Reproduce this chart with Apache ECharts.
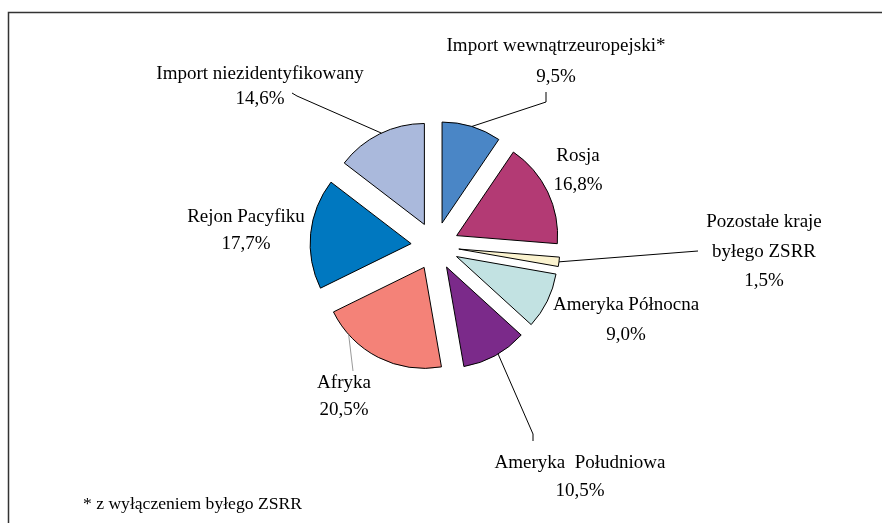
<!DOCTYPE html>
<html>
<head>
<meta charset="utf-8">
<script src="https://cdn.jsdelivr.net/npm/echarts@6/dist/echarts.min.js"></script>
<style>
html,body{margin:0;padding:0;background:#fff;}
#chart{width:882px;height:523px;}
</style>
</head>
<body>
<div id="chart"></div>
<script>
const categories = ['Import wewnątrzeuropejski*', 'Rosja', 'Pozostałe kraje\nbyłego ZSRR', 'Ameryka Północna', 'Ameryka  Południowa', 'Afryka', 'Rejon Pacyfiku', 'Import niezidentyfikowany'];
const values = [9.5, 16.8, 1.5, 9.0, 10.5, 20.5, 17.7, 14.6];
const footnote = '* z wyłączeniem byłego ZSRR';

// styling / layout (not data)
const colors = ['#4A86C6', '#B33A74', '#FBF3CF', '#C2E2E2', '#7B2A8A', '#F48278', '#0078C0', '#AAB9DC'];
const labelCenters = [[556, 62], [578, 171], [764, 252], [626, 320], [580, 477], [344, 397], [246, 231], [260, 87]];
const labelLineHeights = [31, 29, 29.5, 30, 28, 27, 27, 25];
// leader lines: fraction along slice arc where the line starts, and the remaining points near the label
const leaderStartFrac = [0.5, null, 0.5, null, 0.45, 0.79, null, 0.52];
const leaderEnds = [
  [[546, 102], [546, 92]],
  null,
  [[698, 251]],
  null,
  [[533, 434], [533, 441]],
  [[353, 371]],
  null,
  [[297, 96], [292, 93]]
];
const leaderColors = ['#000', null, '#000', null, '#000', '#9a9a9a', null, '#000'];

const fmt = v => v.toFixed(1).replace('.', ',') + '%';
const OFFSET = 24;
const CENTER = [435, 246];
const RADIUS = 101;

const chart = echarts.init(document.getElementById('chart'), null, {renderer: 'canvas'});
const data = categories.map((c, i) => ({
  name: c,
  value: values[i],
  selected: true,
  itemStyle: {color: colors[i]}
}));

const baseGraphic = [
  {type: 'polyline', shape: {points: [[8.5, 523], [8.5, 12.5], [882, 12.5]]}, style: {stroke: '#333', lineWidth: 1.5, fill: null}, silent: true},
  {type: 'text', left: 83, top: 495, style: {text: footnote, font: '17.6px "Liberation Serif"', fill: '#000'}, silent: true}
];
categories.forEach((c, i) => {
  baseGraphic.push({
    type: 'text',
    x: labelCenters[i][0], y: labelCenters[i][1],
    silent: true,
    style: {
      text: c + '\n' + fmt(values[i]),
      font: '19px "Liberation Serif"',
      fill: '#000',
      align: 'center',
      verticalAlign: 'middle',
      lineHeight: labelLineHeights[i]
    }
  });
});

chart.setOption({
  animation: false,
  backgroundColor: '#fff',
  graphic: baseGraphic,
  series: [{
    type: 'pie',
    center: CENTER,
    radius: RADIUS,
    startAngle: 90,
    clockwise: true,
    selectedMode: 'multiple',
    selectedOffset: OFFSET,
    emphasis: {disabled: true},
    itemStyle: {borderColor: '#000', borderWidth: 1},
    label: {show: false},
    labelLine: {show: false},
    data: data
  }]
});

// leader lines anchored to the library's own pie layout
let layouts = [];
try {
  const sd = chart.getModel().getSeriesByIndex(0).getData();
  for (let i = 0; i < values.length; i++) layouts.push(sd.getItemLayout(i));
} catch (e) { layouts = []; }
if (!layouts.length || !layouts[0]) {
  const total = values.reduce((a, b) => a + b, 0);
  let a = -Math.PI / 2;
  layouts = values.map(v => {
    const s = a; a += v / total * Math.PI * 2;
    return {cx: CENTER[0], cy: CENTER[1], r: RADIUS, startAngle: s, endAngle: a};
  });
}
const lineGraphic = [];
layouts.forEach((L, i) => {
  if (leaderStartFrac[i] == null) return;
  const mid = (L.startAngle + L.endAngle) / 2;
  const ox = Math.cos(mid) * OFFSET, oy = Math.sin(mid) * OFFSET;
  const a = L.startAngle + leaderStartFrac[i] * (L.endAngle - L.startAngle);
  const p0 = [L.cx + ox + L.r * Math.cos(a), L.cy + oy + L.r * Math.sin(a)];
  lineGraphic.push({
    type: 'polyline', silent: true, z: 10,
    shape: {points: [p0].concat(leaderEnds[i])},
    style: {stroke: leaderColors[i], lineWidth: 1, fill: null}
  });
});
chart.setOption({graphic: baseGraphic.concat(lineGraphic)});
</script>
</body>
</html>
